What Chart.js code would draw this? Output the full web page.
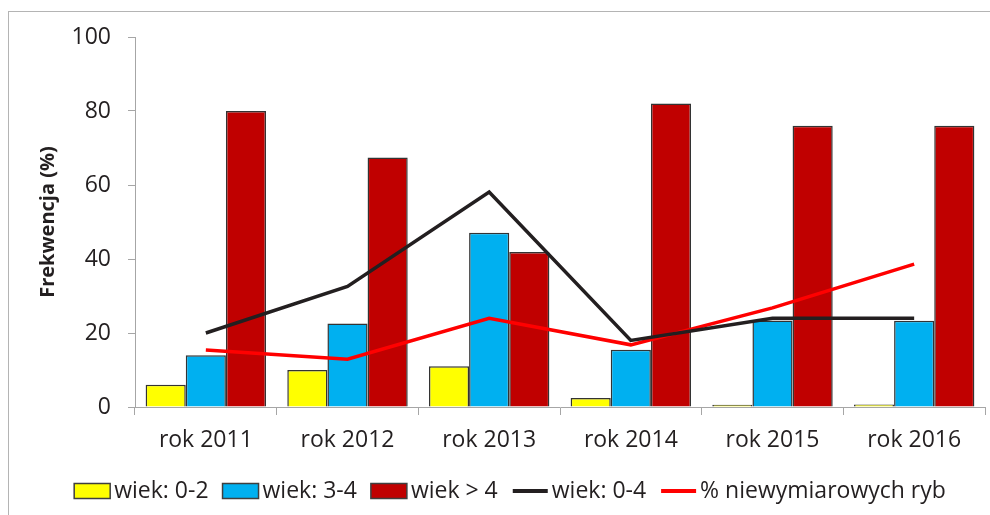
<!DOCTYPE html>
<html>
<head>
<meta charset="utf-8">
<script src="https://cdn.jsdelivr.net/npm/chart.js@4.4.1/dist/chart.umd.min.js"></script>
<style>
  body { margin: 0; background: #fff; }
  canvas { display: block; }
</style>
</head>
<body>
<canvas id="chart" width="990" height="515"></canvas>
<script>
// categories and series
var years = ['rok 2011', 'rok 2012', 'rok 2013', 'rok 2014', 'rok 2015', 'rok 2016'];
var age02 = [6, 10, 11, 2.4, 0.6, 0.7];
var age34 = [14, 22.6, 47.1, 15.5, 23.4, 23.3];
var ageOver4 = [80, 67.4, 41.9, 82, 76, 76];
var age04 = [20, 32.6, 58.1, 18, 24, 24];
var undersized = [15.4, 12.9, 24, 16.8, 26.8, 38.6];
var yTicks = [0, 20, 40, 60, 80, 100];

var FONT = '"Open Sans", "DejaVu Sans", sans-serif';
var TEXT = '#231f20';
var AXIS = '#a6a6a6';

// grey frame round the whole chart
var framePlugin = {
    id: 'frame',
    beforeDraw: function(chart) {
        var ctx = chart.ctx;
        ctx.save();
        ctx.strokeStyle = '#b4b4b4';
        ctx.lineWidth = 1;
        ctx.strokeRect(8.5, 11.5, 1100, 700);
        ctx.restore();
    }
};

// legend drawn by hand: box/line, small gap, label
var legendPlugin = {
    id: 'bottomLegend',
    afterDraw: function(chart) {
        var ctx = chart.ctx;
        var sets = chart.data.datasets;
        var boxW = 36, boxH = 15, gap = 4, itemGap = 14, cy = 491;
        ctx.save();
        ctx.font = '23px ' + FONT;
        ctx.textBaseline = 'middle';
        var total = 0;
        sets.forEach(function(ds, i) {
            total += boxW + gap + ctx.measureText(ds.label).width;
            if (i < sets.length - 1) total += itemGap;
        });
        var x = 510 - total / 2;
        sets.forEach(function(ds) {
            if (ds.type === 'line') {
                ctx.strokeStyle = ds.borderColor;
                ctx.lineWidth = 4;
                ctx.beginPath();
                ctx.moveTo(x + 1, cy);
                ctx.lineTo(x + boxW, cy);
                ctx.stroke();
            } else {
                ctx.fillStyle = ds.backgroundColor;
                ctx.fillRect(x, cy - boxH / 2, boxW, boxH);
                ctx.strokeStyle = '#3f3f3f';
                ctx.lineWidth = 1.5;
                ctx.strokeRect(x, cy - boxH / 2, boxW, boxH);
            }
            x += boxW + gap;
            ctx.fillStyle = TEXT;
            ctx.fillText(ds.label, x, cy);
            x += ctx.measureText(ds.label).width + itemGap;
        });
        ctx.restore();
    }
};

function barSet(label, data, color) {
    return {
        type: 'bar',
        label: label,
        data: data,
        backgroundColor: color,
        borderColor: '#333333',
        borderWidth: 1.5,
        categoryPercentage: 0.85,
        barPercentage: 1,
        order: 1
    };
}

function lineSet(label, data, color) {
    return {
        type: 'line',
        label: label,
        data: data,
        borderColor: color,
        backgroundColor: color,
        borderWidth: 3.5,
        pointRadius: 0,
        tension: 0,
        fill: false,
        order: 0
    };
}

new Chart(document.getElementById('chart'), {
    data: {
        labels: years,
        datasets: [
            barSet('wiek: 0-2', age02, '#ffff00'),
            barSet('wiek: 3-4', age34, '#00b0f0'),
            barSet('wiek > 4', ageOver4, '#c00000'),
            lineSet('wiek: 0-4', age04, '#231f20'),
            lineSet('% niewymiarowych ryb', undersized, '#ff0000')
        ]
    },
    options: {
        responsive: false,
        animation: false,
        layout: { padding: { left: 0, right: 5, top: 37, bottom: 58 } },
        plugins: {
            legend: { display: false },
            tooltip: { enabled: false }
        },
        scales: {
            x: {
                offset: true,
                grid: {
                    offset: true,
                    drawOnChartArea: false,
                    drawTicks: true,
                    tickLength: 8,
                    color: AXIS
                },
                border: { color: AXIS, width: 1 },
                ticks: { font: { family: FONT, size: 23 }, color: TEXT, padding: 12, maxRotation: 0 },
                afterFit: function(scale) { scale.height = 50; }
            },
            y: {
                min: 0,
                max: 100,
                afterBuildTicks: function(scale) {
                    scale.ticks = yTicks.map(function(v) { return { value: v }; });
                },
                grid: {
                    drawOnChartArea: false,
                    drawTicks: true,
                    tickLength: 7,
                    color: AXIS
                },
                border: { color: AXIS, width: 1 },
                ticks: { font: { family: FONT, size: 23 }, color: TEXT, padding: 17 },
                title: {
                    display: true,
                    text: 'Frekwencja (%)',
                    font: { family: FONT, size: 20, weight: 'bold' },
                    color: TEXT,
                    padding: { top: 36, bottom: 0 }
                },
                afterFit: function(scale) { scale.width = 135; }
            }
        }
    },
    plugins: [framePlugin, legendPlugin]
});
</script>
</body>
</html>
